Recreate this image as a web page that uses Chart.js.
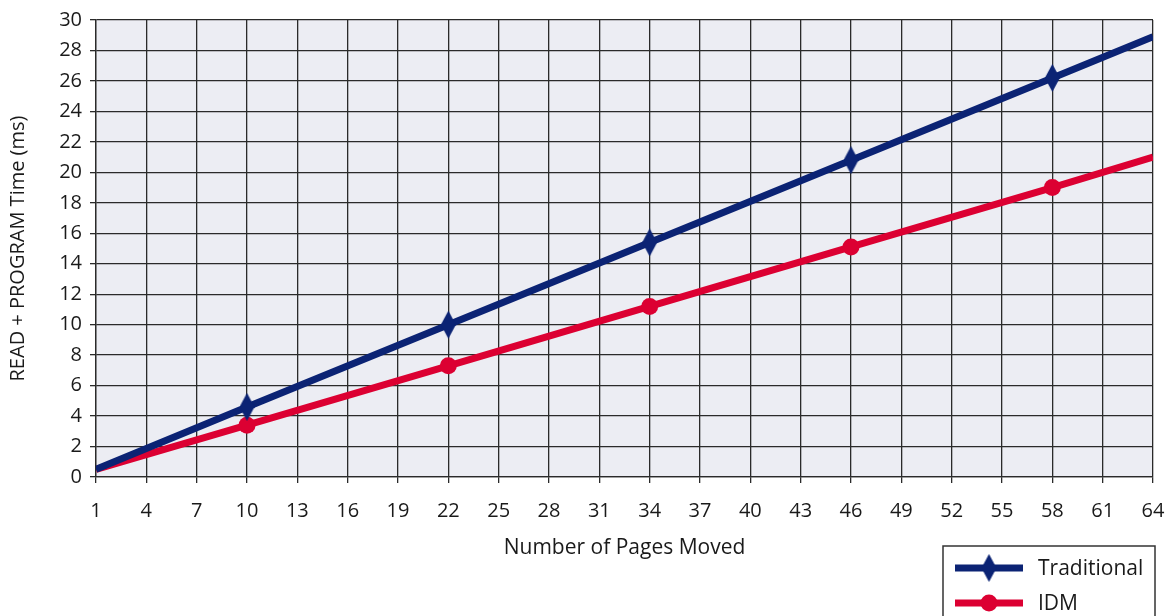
<!DOCTYPE html>
<html>
<head>
<meta charset="utf-8">
<script src="https://cdn.jsdelivr.net/npm/chart.js@4.4.0/dist/chart.umd.min.js"></script>
<style>
  html, body { margin: 0; padding: 0; background: #fff; }
  #wrap { width: 1170px; height: 616px; position: relative; }
</style>
</head>
<body>
<div id="wrap"><canvas id="chart"></canvas></div>
<script>
// values
const pages = [1, 10, 22, 34, 46, 58, 64];
const traditional = [0.5, 4.6, 10.0, 15.4, 20.8, 26.2, 28.9];
const idm = [0.5, 3.4, 7.3, 11.2, 15.1, 19.0, 21.0];
const xTicks = [1, 4, 7, 10, 13, 16, 19, 22, 25, 28, 31, 34, 37, 40, 43, 46, 49, 52, 55, 58, 61, 64];
const seriesNames = ['Traditional', 'IDM'];

const NAVY = '#0b2374';
const RED = '#dc0032';
const FONT = "'Open Sans', 'Noto Sans', sans-serif";

// tall narrow diamond marker
function makeDiamond(w, h, color) {
    const c = document.createElement('canvas');
    c.width = w; c.height = h;
    const g = c.getContext('2d');
    g.fillStyle = color;
    g.beginPath();
    g.moveTo(w / 2, 0);
    g.lineTo(w, h / 2);
    g.lineTo(w / 2, h);
    g.lineTo(0, h / 2);
    g.closePath();
    g.fill();
    return c;
}
const diamond = makeDiamond(15, 28, NAVY);

function toPoints(xs, ys) {
    return xs.map((x, i) => ({ x: x, y: ys[i] }));
}
const markerRadius = r => ctx => {
    const x = ctx.raw ? ctx.raw.x : null;
    return (x === pages[0] || x === pages[pages.length - 1]) ? 0 : r;
};

const plotBg = {
    id: 'plotBg',
    beforeDraw(chart) {
        const a = chart.chartArea, c = chart.ctx;
        c.save();
        c.fillStyle = '#ecedf3';
        c.fillRect(a.left, a.top, a.right - a.left, a.bottom - a.top);
        c.restore();
    }
};

const boxLegend = {
    id: 'boxLegend',
    afterDraw(chart) {
        const c = chart.ctx;
        c.save();
        c.strokeStyle = '#333';
        c.lineWidth = 1.5;
        c.fillStyle = '#fff';
        c.fillRect(943, 546, 212, 80);
        c.strokeRect(943, 546, 212, 80);
        const rows = [
            { y: 568, color: NAVY, label: seriesNames[0], mark: 'diamond' },
            { y: 603, color: RED, label: seriesNames[1], mark: 'circle' }
        ];
        rows.forEach(r => {
            c.strokeStyle = r.color;
            c.lineWidth = 7;
            c.beginPath();
            c.moveTo(955, r.y);
            c.lineTo(1023, r.y);
            c.stroke();
            if (r.mark === 'diamond') {
                c.drawImage(diamond, 989 - diamond.width / 2, r.y - diamond.height / 2);
            } else {
                c.fillStyle = r.color;
                c.beginPath();
                c.arc(989, r.y, 8.5, 0, Math.PI * 2);
                c.fill();
            }
            c.fillStyle = '#1a1a1a';
            c.font = '21px ' + FONT;
            c.textBaseline = 'middle';
            c.fillText(r.label, 1038, r.y + 1);
        });
        c.restore();
    }
};

const ctx = document.getElementById('chart').getContext('2d');
new Chart(ctx, {
    type: 'line',
    data: {
        datasets: [
            {
                label: seriesNames[0],
                data: toPoints(pages, traditional),
                borderColor: NAVY,
                backgroundColor: NAVY,
                borderWidth: 7,
                pointStyle: diamond,
                pointRadius: markerRadius(8),
                pointHoverRadius: markerRadius(8),
                tension: 0
            },
            {
                label: seriesNames[1],
                data: toPoints(pages, idm),
                borderColor: RED,
                backgroundColor: RED,
                borderWidth: 7,
                pointStyle: 'circle',
                pointRadius: markerRadius(8.5),
                pointHoverRadius: markerRadius(8.5),
                pointBorderWidth: 0,
                tension: 0
            }
        ]
    },
    options: {
        responsive: true,
        maintainAspectRatio: false,
        animation: false,
        layout: { padding: { top: 16, right: 17, bottom: 0, left: 0 } },
        scales: {
            x: {
                type: 'linear',
                min: 1,
                max: 64,
                afterBuildTicks: scale => {
                    scale.ticks = xTicks.map(v => ({ value: v }));
                },
                afterFit: scale => {
                    scale.height = 139;
                    scale.paddingRight = 0;
                    scale.paddingLeft = 0;
                },
                grid: { color: '#2a2a2a', lineWidth: 1.3, tickLength: 6, tickColor: '#2a2a2a' },
                border: { color: '#2a2a2a', width: 1.3 },
                ticks: {
                    color: '#1a1a1a',
                    font: { family: FONT, size: 20 },
                    padding: 16,
                    maxRotation: 0,
                    autoSkip: false
                },
                title: {
                    display: true,
                    text: 'Number of Pages Moved',
                    color: '#1a1a1a',
                    font: { family: FONT, size: 21 },
                    padding: { top: 0, bottom: 55 }
                }
            },
            y: {
                min: 0,
                max: 30,
                afterFit: scale => { scale.width = 96; },
                grid: { color: '#2a2a2a', lineWidth: 1.3, tickLength: 6, tickColor: '#2a2a2a' },
                border: { color: '#2a2a2a', width: 1.3 },
                ticks: {
                    stepSize: 2,
                    color: '#1a1a1a',
                    font: { family: FONT, size: 20 },
                    padding: 8
                },
                title: {
                    display: true,
                    text: 'READ + PROGRAM Time (ms)',
                    color: '#1a1a1a',
                    font: { family: FONT, size: 20 },
                    padding: { top: 6, bottom: 0 }
                }
            }
        },
        plugins: {
            legend: { display: false },
            tooltip: { enabled: false }
        }
    },
    plugins: [plotBg, boxLegend]
});
</script>
</body>
</html>
